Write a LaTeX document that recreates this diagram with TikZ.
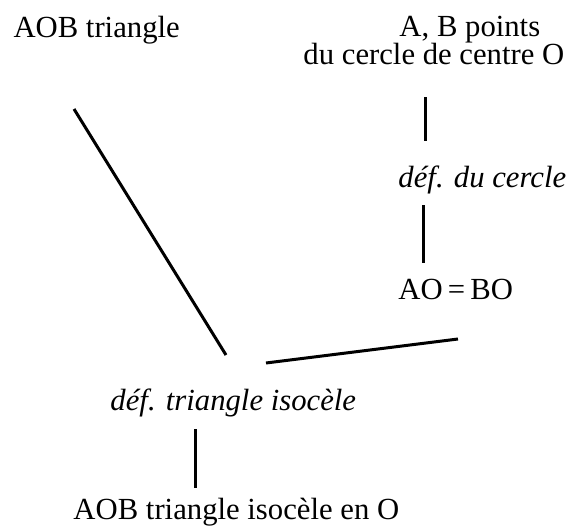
\documentclass[tikz,border=0pt]{standalone}
\usepackage{fontspec}
\setmainfont{Liberation Serif}
\usetikzlibrary{positioning}

\begin{document}
\begin{tikzpicture}[
                    % one unit = one pixel of the sketch, y going down
                    x=0.5pt, y=-0.5pt,
                    every path/.style={color=black, line width=1.5pt},
                    every node/.style={color=black, inner sep=0pt, anchor=base west,
                                       font=\fontsize{15.35}{18}\selectfont},
                    rule/.style={font=\fontsize{15.35}{18}\selectfont\itshape}
                  ]
  \useasboundingbox (0,0) rectangle (570,526);

  % --- premisses ---
  \node (tri) at (12,37) {AOB triangle};
  \node (ab)  at (398,36) {A, B points};
  \node (cer) at (302,64) {du cercle de centre O};

  % --- right branch ---
  \node[rule] (defc) at (397,187) {déf. du cercle};
  \node (eq) at (397,299) {AO\,=\,BO};

  % --- conclusion ---
  \node[rule] (deft) at (109,410) {déf. triangle isocèle};
  \node (concl) at (72,519) {AOB triangle isocèle en O};

  % --- line ends ---
  \coordinate (c1a) at (426,97);  \coordinate (c1b) at (426,141);
  \coordinate (c2a) at (424,205); \coordinate (c2b) at (424,263);
  \coordinate (d1a) at (74,109);  \coordinate (d1b) at (226,355);
  \coordinate (d2a) at (458,339); \coordinate (d2b) at (266,363);
  \coordinate (c3a) at (196,429); \coordinate (c3b) at (196,488);

  \draw (c1a) -- (c1b);
  \draw (c2a) -- (c2b);
  \draw (d1a) -- (d1b);
  \draw (d2a) -- (d2b);
  \draw (c3a) -- (c3b);

\end{tikzpicture}
\end{document}
